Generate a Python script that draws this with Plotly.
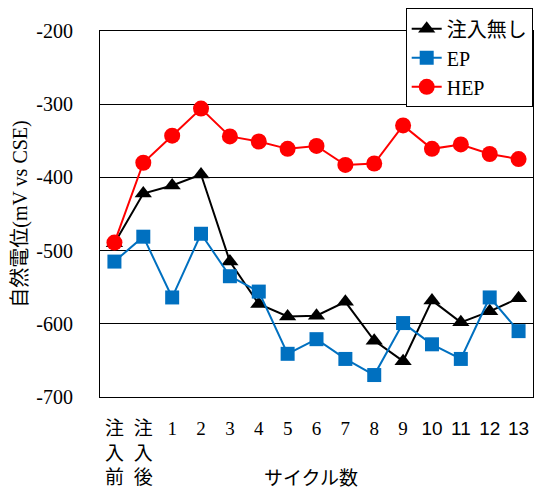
import plotly.graph_objects as go

# Cycle labels (before injection, after injection, cycles 1-13)
categories = ["注入前", "注入後", "1", "2", "3", "4", "5", "6", "7",
              "8", "9", "10", "11", "12", "13"]

# Natural potential (mV vs CSE)
no_injection = [-490, -422, -411, -396, -515, -573, -590, -589, -570, -623, -651, -568, -598, -583, -565]
ep = [-515, -481, -564, -477, -535, -556, -641, -621, -648, -670, -599, -628, -648, -564, -610]
hep = [-489, -380, -343, -306, -344, -351, -361, -357, -383, -381, -329, -361, -355, -368, -375]

y_ticks = [-700, -600, -500, -400, -300, -200]
y_tick_text = ["-700", "-600", "-500", "-400", "-300", "-200"]

FONT = "'Liberation Serif', 'Times New Roman', 'Noto Sans CJK JP', serif"


def tick_label(label):
    # Japanese labels are stacked one character per line; two-digit cycles use a sans face
    if not label.isdigit():
        return "<br>".join(label)
    if len(label) > 1:
        return "<span style='font-family:Liberation Sans, Arial, sans-serif'>%s</span>" % label
    return label


x_tick_text = [tick_label(c) for c in categories]

fig = go.Figure()
fig.add_trace(go.Scatter(
    x=categories, y=no_injection, name="注入無し", mode="lines+markers",
    line=dict(color="black", width=2),
    marker=dict(symbol="triangle-up", size=15, color="black"),
))
fig.add_trace(go.Scatter(
    x=categories, y=ep, name="EP", mode="lines+markers",
    line=dict(color="#0070C0", width=2),
    marker=dict(symbol="square", size=14, color="#0070C0"),
))
fig.add_trace(go.Scatter(
    x=categories, y=hep, name="HEP", mode="lines+markers",
    line=dict(color="#FF0000", width=2),
    marker=dict(symbol="circle", size=16, color="#FF0000"),
))

fig.update_layout(
    width=534, height=492,
    margin=dict(l=100, r=1, t=31, b=95),
    paper_bgcolor="white", plot_bgcolor="white",
    font=dict(family=FONT, size=20, color="black"),
    showlegend=True,
    legend=dict(
        x=0.706, y=1.062, xanchor="left", yanchor="top",
        bgcolor="white", bordercolor="black", borderwidth=1,
        font=dict(family=FONT, size=20, color="black"),
        itemwidth=30,
    ),
    xaxis=dict(
        type="category", automargin=False,
        range=[-0.5, len(categories) - 0.5],
        tickmode="array", tickvals=categories, ticktext=x_tick_text,
        tickfont=dict(family=FONT, size=19, color="black"),
        ticks="", showgrid=False, zeroline=False,
        showline=True, linecolor="black", linewidth=1, mirror=True,
        ticklabelstandoff=14,
    ),
    yaxis=dict(
        range=[-700, -200], automargin=False,
        tickmode="array", tickvals=y_ticks, ticktext=y_tick_text,
        tickfont=dict(family=FONT, size=20, color="black"),
        ticks="", showgrid=True, gridcolor="black", gridwidth=1,
        zeroline=False,
        showline=True, linecolor="black", linewidth=1, mirror=True,
        ticklabelstandoff=22,
        title=dict(text="自然電位(mV vs CSE)", font=dict(family=FONT, size=20), standoff=3),
    ),
    annotations=[dict(
        text="サイクル数", x=0.487, y=-0.222, xref="paper", yref="paper",
        xanchor="center", yanchor="middle", showarrow=False,
        font=dict(family=FONT, size=19, color="black"),
    )],
)

fig.write_html("out.html")
